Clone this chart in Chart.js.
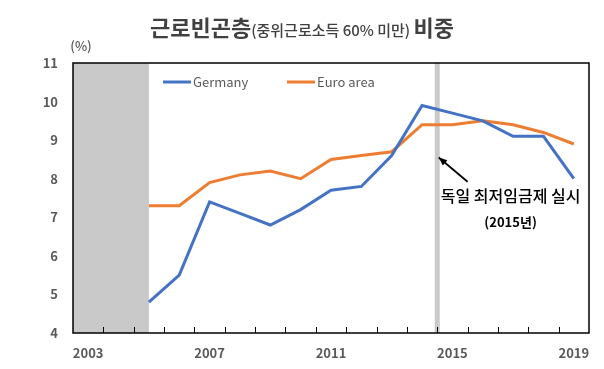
<!DOCTYPE html>
<html>
<head>
<meta charset="utf-8">
<script src="https://cdn.jsdelivr.net/npm/chart.js@4.4.0/dist/chart.umd.min.js"></script>
<style>
  body { margin: 0; background: #fff; }
</style>
</head>
<body>
<canvas id="chart" width="604" height="369"></canvas>
<script>
// data
var years = ['2003', '2004', '2005', '2006', '2007', '2008', '2009', '2010', '2011',
             '2012', '2013', '2014', '2015', '2016', '2017', '2018', '2019'];
var germany = [null, null, 4.8, 5.5, 7.4, 7.1, 6.8, 7.2, 7.7, 7.8, 8.6, 9.9, 9.7, 9.5, 9.1, 9.1, 8.0];
var euroArea = [null, null, 7.3, 7.3, 7.9, 8.1, 8.2, 8.0, 8.5, 8.6, 8.7, 9.4, 9.4, 9.5, 9.4, 9.2, 8.9];
var shownYears = ['2003', '2007', '2011', '2015', '2019'];
var yMin = 4, yMax = 11;
var shadedYears = ['2003', '2005'];   // grey block on the left
var policyYear = '2015';              // thin grey bar (minimum wage)

var FONT = "'Noto Sans CJK KR', 'Noto Sans', sans-serif";
var GREY_TEXT = '#595959';
var SHADE = '#c9c9c9';

var shadePlugin = {
  id: 'shade',
  beforeDatasetsDraw: function (chart) {
    var x = chart.scales.x, a = chart.chartArea, ctx = chart.ctx;
    ctx.save();
    ctx.fillStyle = SHADE;
    var l = x.getPixelForValue(years.indexOf(shadedYears[0]) - 0.5);
    var r = x.getPixelForValue(years.indexOf(shadedYears[1]));
    ctx.fillRect(l, a.top, r - l, a.bottom - a.top);
    var p = x.getPixelForValue(years.indexOf(policyYear) - 0.5);
    ctx.fillRect(p - 2.5, a.top, 5, a.bottom - a.top);
    ctx.restore();
  }
};

var framePlugin = {
  id: 'frame',
  afterDatasetsDraw: function (chart) {
    var x = chart.scales.x, a = chart.chartArea, ctx = chart.ctx;
    ctx.save();
    ctx.strokeStyle = '#000';
    ctx.lineWidth = 1.5;
    ctx.strokeRect(a.left, a.top, a.right - a.left, a.bottom - a.top);
    // small tick marks between categories, pointing inward
    ctx.lineWidth = 1;
    for (var i = 1; i < years.length; i++) {
      var px = Math.round(x.getPixelForValue(i - 0.5)) + 0.5;
      ctx.beginPath();
      ctx.moveTo(px, a.bottom);
      ctx.lineTo(px, a.bottom - 6);
      ctx.stroke();
    }
    ctx.restore();
  }
};

var legendPlugin = {
  id: 'innerLegend',
  afterDatasetsDraw: function (chart) {
    var a = chart.chartArea, ctx = chart.ctx;
    var starts = [a.left + 90, a.left + 214];
    var y = a.top + 19;
    ctx.save();
    ctx.font = '13px ' + FONT;
    ctx.textBaseline = 'middle';
    chart.data.datasets.forEach(function (ds, i) {
      ctx.strokeStyle = ds.borderColor;
      ctx.lineWidth = 3;
      ctx.beginPath();
      ctx.moveTo(starts[i], y);
      ctx.lineTo(starts[i] + 28, y);
      ctx.stroke();
      ctx.fillStyle = GREY_TEXT;
      ctx.fillText(ds.label, starts[i] + 30, y);
    });
    ctx.restore();
  }
};

var notePlugin = {
  id: 'notes',
  afterDraw: function (chart) {
    var x = chart.scales.x, yS = chart.scales.y, ctx = chart.ctx, a = chart.chartArea;
    var pi = years.indexOf(policyYear);
    var tipX = x.getPixelForValue(pi - 0.45), tipY = yS.getPixelForValue(8.55);
    var tailX = x.getPixelForValue(pi + 0.5), tailY = yS.getPixelForValue(7.92);
    ctx.save();
    // arrow
    ctx.strokeStyle = '#000';
    ctx.fillStyle = '#000';
    ctx.lineWidth = 1.8;
    ctx.beginPath();
    ctx.moveTo(tailX, tailY);
    ctx.lineTo(tipX, tipY);
    ctx.stroke();
    var ang = Math.atan2(tipY - tailY, tipX - tailX);
    ctx.beginPath();
    ctx.moveTo(tipX, tipY);
    ctx.lineTo(tipX - 9 * Math.cos(ang - 0.4), tipY - 9 * Math.sin(ang - 0.4));
    ctx.lineTo(tipX - 9 * Math.cos(ang + 0.4), tipY - 9 * Math.sin(ang + 0.4));
    ctx.closePath();
    ctx.fill();
    // note text
    ctx.textAlign = 'center';
    ctx.textBaseline = 'middle';
    ctx.font = '500 16px ' + FONT;
    ctx.fillText('독일 최저임금제 실시', tailX + 43, tailY + 14);
    ctx.font = 'bold 13px ' + FONT;
    ctx.fillText('(2015년)', tailX + 43, tailY + 40);

    // unit label
    ctx.fillStyle = GREY_TEXT;
    ctx.font = '500 13px ' + FONT;
    ctx.fillText('(%)', a.left + 8, a.top - 17);

    // title with mixed sizes
    var parts = [
      { t: '근로빈곤층', f: 'bold 22px ' + FONT },
      { t: '(중위근로소득 60% 미만) ', f: '500 15px ' + FONT },
      { t: '비중', f: 'bold 22px ' + FONT }
    ];
    var total = 0;
    parts.forEach(function (p) { ctx.font = p.f; p.w = ctx.measureText(p.t).width; total += p.w; });
    var cx = chart.width / 2 - total / 2;
    ctx.textAlign = 'left';
    ctx.textBaseline = 'alphabetic';
    ctx.fillStyle = '#404040';
    parts.forEach(function (p) {
      ctx.font = p.f;
      ctx.fillText(p.t, cx, 36);
      cx += p.w;
    });
    ctx.restore();
  }
};

new Chart(document.getElementById('chart'), {
  type: 'line',
  data: {
    labels: years,
    datasets: [
      { label: 'Germany', data: germany, borderColor: '#4472c4', borderWidth: 3,
        pointRadius: 0, tension: 0, fill: false },
      { label: 'Euro area', data: euroArea, borderColor: '#ed7d31', borderWidth: 3,
        pointRadius: 0, tension: 0, fill: false }
    ]
  },
  options: {
    responsive: false,
    animation: false,
    layout: { padding: { top: 63, right: 15, left: 0, bottom: 0 } },
    plugins: {
      legend: { display: false },
      title: { display: false },
      tooltip: { enabled: false }
    },
    scales: {
      x: {
        type: 'category',
        offset: true,
        grid: { display: false, drawTicks: false },
        border: { display: false },
        ticks: {
          autoSkip: false,
          maxRotation: 0,
          padding: 12,
          color: GREY_TEXT,
          font: { family: FONT, size: 13, weight: 'bold' },
          callback: function (v, i) {
            return shownYears.indexOf(years[i]) >= 0 ? years[i] : '';
          }
        },
        afterFit: function (s) { s.height = 36; }
      },
      y: {
        min: yMin,
        max: yMax,
        grid: { display: false, drawTicks: false },
        border: { display: false },
        ticks: {
          stepSize: 1,
          padding: 15,
          color: GREY_TEXT,
          font: { family: FONT, size: 13, weight: 'bold' }
        },
        afterFit: function (s) { s.width = 73; }
      }
    }
  },
  plugins: [shadePlugin, framePlugin, legendPlugin, notePlugin]
});
</script>
</body>
</html>
